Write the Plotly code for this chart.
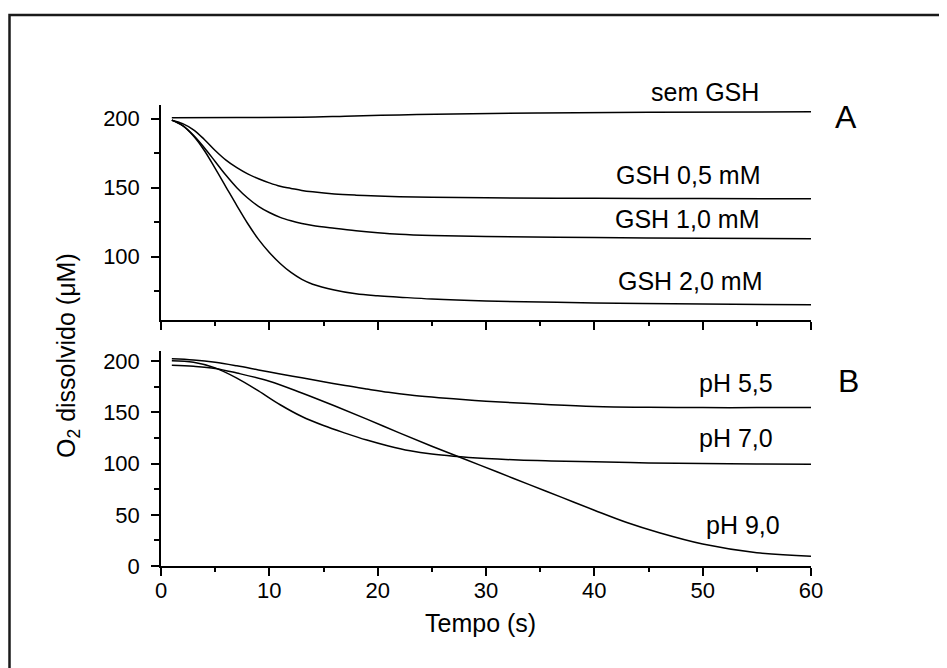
import plotly.graph_objects as go

# ---- data ----
t_sem = [1, 7, 13, 17, 22, 27, 35, 45, 60]
sem_gsh = [200.8, 200.9, 201.1, 201.8, 202.8, 203.5, 204.2, 204.7, 205.1]

t_a = [1, 2, 3, 4, 5, 6, 7, 8, 9, 10, 11, 12, 13, 14, 16, 18, 20, 22, 25, 30, 40, 50, 60]
gsh_05 = [199, 196.5, 192, 185, 177, 170, 164.5, 160, 156.5, 153.5, 151, 149.5, 148, 147, 145.5, 144.6, 144, 143.5, 143, 142.7, 142.3, 142.1, 142]
gsh_10 = [199, 195, 188, 179, 169, 159, 150, 142.5, 136.5, 132, 128.5, 126, 124, 122.5, 120.5, 118.7, 117.3, 116.2, 115.3, 114.5, 113.8, 113.3, 113]
gsh_20 = [199, 195, 187.5, 177, 164, 150.5, 137, 124, 112.5, 103, 95, 88.5, 83.5, 80, 75.8, 73, 71.6, 70.6, 69.2, 67.8, 66.4, 65.6, 65]

t_b = [1, 3, 5, 7, 9, 11, 13, 15, 17, 19, 21, 23, 25, 27, 30, 33, 36, 40, 45, 50, 55, 60]
ph_55 = [202.5, 201.3, 199, 195.5, 191.5, 187.5, 183.8, 180, 176.2, 172.8, 169.6, 167, 165, 163.3, 161, 159.2, 157.5, 155.8, 155, 154.7, 154.7, 154.7]
ph_70 = [200.5, 199, 193.5, 183.5, 171, 157.5, 146, 137.2, 129.8, 123, 117.2, 112.5, 109.3, 107.2, 105, 103.5, 102.6, 101.7, 100.7, 100, 99.6, 99.4]

t_b9 = [1, 3, 5, 7, 10, 13, 16, 19, 22, 25, 28, 31, 34, 37, 40, 43, 46, 50, 55, 60]
ph_90 = [196, 195, 193, 188.5, 180.5, 169, 156.5, 143.5, 130, 117, 104.5, 92, 79.5, 67, 54.5, 42.5, 32.5, 21.5, 13, 9.5]

x_ticks = [0, 10, 20, 30, 40, 50, 60]
ya_ticks = [100, 150, 200]
yb_ticks = [0, 50, 100, 150, 200]

FONT = "Liberation Sans, Arial, sans-serif"
BLACK = "#000000"

fig = go.Figure()
line = dict(color=BLACK, width=1.5, shape="spline", smoothing=1.0)

fig.add_trace(go.Scatter(x=t_sem, y=sem_gsh, mode="lines", line=line, xaxis="x", yaxis="y"))
for ys in (gsh_05, gsh_10, gsh_20):
    fig.add_trace(go.Scatter(x=t_a, y=ys, mode="lines", line=line, xaxis="x", yaxis="y"))
for ys in (ph_55, ph_70):
    fig.add_trace(go.Scatter(x=t_b, y=ys, mode="lines", line=line, xaxis="x2", yaxis="y2"))
fig.add_trace(go.Scatter(x=t_b9, y=ph_90, mode="lines", line=line, xaxis="x2", yaxis="y2"))

axis_common = dict(showline=True, linecolor=BLACK, linewidth=1.5, showgrid=False,
                   zeroline=False, ticks="outside", ticklen=8, tickwidth=1.5,
                   tickcolor=BLACK, tickfont=dict(family=FONT, size=22, color=BLACK))
minor_x = dict(ticks="outside", ticklen=4, dtick=5, tick0=0, tickcolor=BLACK, tickwidth=1.5)
minor_y = dict(ticks="outside", ticklen=5, dtick=25, tick0=0, tickcolor=BLACK, tickwidth=1.5)

# page body has an 8px offset; margins are chosen so the plot area lands at
# screen x 161..811, y 105..566
fig.update_layout(
    width=947, height=668,
    margin=dict(l=153, r=144, t=97, b=110),
    paper_bgcolor="white", plot_bgcolor="white",
    showlegend=False,
    xaxis=dict(axis_common, range=[0, 60], tickvals=x_ticks, showticklabels=False,
               anchor="y", domain=[0, 1], minor=minor_x),
    yaxis=dict(axis_common, range=[54, 210], tickvals=ya_ticks, domain=[0.5336, 1.0],
               anchor="x", minor=minor_y, ticklabelstandoff=7),
    xaxis2=dict(axis_common, range=[0, 60], tickvals=x_ticks, anchor="y2", domain=[0, 1],
                minor=minor_x, ticklabelstandoff=-4),
    yaxis2=dict(axis_common, range=[0, 210], tickvals=yb_ticks, domain=[0, 0.4664],
                anchor="x2", minor=minor_y, ticklabelstandoff=7),
)


def px(sx):
    return (sx - 161) / 650


def py(sy):
    return (566 - sy) / 461


lab = dict(family=FONT, size=25, color=BLACK)
big = dict(family=FONT, size=32, color=BLACK)
ann = [
    dict(text="sem GSH", x=px(761), y=py(92), xref="paper", yref="paper", xanchor="right", yanchor="middle", font=lab),
    dict(text="GSH 0,5 mM", x=55.5, y=159, xref="x", yref="y", xanchor="right", yanchor="middle", font=lab),
    dict(text="GSH 1,0 mM", x=55.4, y=127.6, xref="x", yref="y", xanchor="right", yanchor="middle", font=lab),
    dict(text="GSH 2,0 mM", x=55.7, y=82.5, xref="x", yref="y", xanchor="right", yanchor="middle", font=lab),
    dict(text="A", x=px(846), y=py(117.5), xref="paper", yref="paper", xanchor="center", yanchor="middle", font=big),
    dict(text="pH 5,5", x=56.7, y=179, xref="x2", yref="y2", xanchor="right", yanchor="middle", font=lab),
    dict(text="pH 7,0", x=56.7, y=124.8, xref="x2", yref="y2", xanchor="right", yanchor="middle", font=lab),
    dict(text="pH 9,0", x=57.3, y=39.8, xref="x2", yref="y2", xanchor="right", yanchor="middle", font=lab),
    dict(text="B", x=px(848), y=py(381), xref="paper", yref="paper", xanchor="center", yanchor="middle", font=big),
    dict(text="Tempo (s)", x=px(480), y=py(623), xref="paper", yref="paper",
         xanchor="center", yanchor="middle", font=lab),
    dict(text="O<sub>2</sub> dissolvido (μM)", x=px(68), y=py(356),
         xref="paper", yref="paper", xanchor="center", yanchor="middle", textangle=-90, font=lab),
]
for a in ann:
    a["showarrow"] = False
fig.update_layout(annotations=ann)

# outer frame (extends beyond the visible page at right and bottom)
fig.add_shape(type="rect", xref="paper", yref="paper",
              x0=px(9.5), x1=px(970),
              y0=py(690), y1=py(15),
              line=dict(color="#1a1a1a", width=2.5), fillcolor="rgba(0,0,0,0)", layer="below")

fig.write_html("out.html")
